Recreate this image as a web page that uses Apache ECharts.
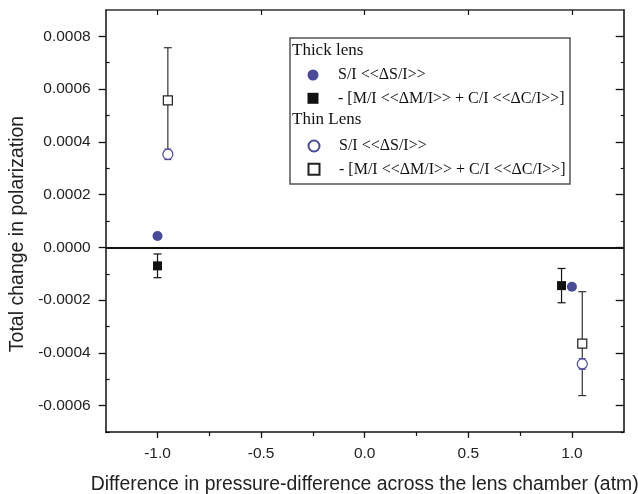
<!DOCTYPE html>
<html>
<head>
<meta charset="utf-8">
<script src="https://cdn.jsdelivr.net/npm/echarts@6/dist/echarts.min.js"></script>
<style>html,body{margin:0;padding:0;background:#fff;}#c{width:638px;height:494px;}</style>
</head>
<body>
<div id="c"></div>
<script>
// ---- data ----
var thickSI_x = [-1.0, 1.0];
var thickSI_y = [0.000043, -0.000149];
var thickSI_err = [0.000003, 0.000004];

var thickMC_x = [-1.0, 0.95];
var thickMC_y = [-0.00007, -0.000145];
var thickMC_err = [0.000045, 0.000065];

var thinSI_x = [-0.95, 1.05];
var thinSI_y = [0.000353, -0.000442];
var thinSI_err = [0.00002, 0.00002];

var thinMC_x = [-0.95, 1.05];
var thinMC_y = [0.000557, -0.000365];
var thinMC_err = [0.0002, 0.000197];

var xMajor = [-1.0, -0.5, 0.0, 0.5, 1.0];
var xMinor = [-0.75, -0.25, 0.25, 0.75];
var yMajor = [-0.0006, -0.0004, -0.0002, 0.0, 0.0002, 0.0004, 0.0006, 0.0008];
var yMinor = [-0.0007, -0.0005, -0.0003, -0.0001, 0.0001, 0.0003, 0.0005, 0.0007];

var labels = {
  thickSI: 'S/I <<\u0394S/I>>',
  thickMC: '- [M/I <<\u0394M/I>> + C/I <<\u0394C/I>>]',
  thinSI: 'S/I <<\u0394S/I>>',
  thinMC: '- [M/I <<\u0394M/I>> + C/I <<\u0394C/I>>]'
};

function zip3(a, b, c) { return a.map(function (v, i) { return [v, b[i], c[i]]; }); }
function zip2(a, b) { return a.map(function (v, i) { return [v, b[i]]; }); }

var BLUE = '#4a4a9a';
var AX = '#111';
var SANS = 'Liberation Sans';
var SERIF = 'Liberation Serif';

function errRender(color, capW) {
  return function (params, api) {
    var x = api.value(0), y = api.value(1), e = api.value(2);
    var t = api.coord([x, y + e]), b = api.coord([x, y - e]);
    var h = capW / 2;
    var st = { stroke: color, lineWidth: 1.2 };
    return { type: 'group', children: [
      { type: 'line', shape: { x1: t[0], y1: t[1], x2: b[0], y2: b[1] }, style: st },
      { type: 'line', shape: { x1: t[0] - h, y1: t[1], x2: t[0] + h, y2: t[1] }, style: st },
      { type: 'line', shape: { x1: b[0] - h, y1: b[1], x2: b[0] + h, y2: b[1] }, style: st }
    ]};
  };
}

var fmtX = function (v) { return v.toFixed(1); };
var fmtY = function (v) { return v.toFixed(4); };

function merge(base, extra) { for (var k in extra) base[k] = extra[k]; return base; }
function xAx(extra) {
  return merge({ type: 'value', min: -1.25, max: 1.25, interval: 0.25, gridIndex: 0,
    splitLine: { show: false }, axisLine: { show: false, onZero: false }, axisTick: { show: false }, axisLabel: { show: false } }, extra);
}
function yAx(extra) {
  return merge({ type: 'value', min: -0.0007, max: 0.0009, interval: 0.0001, gridIndex: 0,
    splitLine: { show: false }, axisLine: { show: false, onZero: false }, axisTick: { show: false }, axisLabel: { show: false } }, extra);
}

var legendText = { fontFamily: SERIF, fontSize: 16, color: '#111', lineHeight: 20, padding: [0, 0, 0, 14.5] };

var chart = echarts.init(document.getElementById('c'), null, { renderer: 'canvas' });
chart.setOption({
  animation: false,
  backgroundColor: '#fff',
  grid: { left: 105.7, right: 14.3, top: 10, bottom: 62, containLabel: false, outerBoundsMode: 'none' },
  xAxis: [
    xAx({ position: 'bottom',
      axisLine: { show: true, onZero: false, lineStyle: { color: AX, width: 1.5 } },
      axisTick: { show: true, customValues: xMajor, length: 6, lineStyle: { color: AX, width: 1.3 } },
      axisLabel: { show: true, customValues: xMajor, formatter: fmtX, fontFamily: SANS, fontSize: 15.5, color: '#222', margin: 14 },
      name: 'Difference in pressure-difference across the lens chamber (atm)',
      nameLocation: 'middle', nameGap: 43,
      nameTextStyle: { fontFamily: SANS, fontSize: 19.4, color: '#222' } }),
    xAx({ position: 'bottom',
      axisTick: { show: true, customValues: xMinor, length: 4, lineStyle: { color: AX, width: 1.2 } } }),
    xAx({ position: 'top',
      axisLine: { show: true, onZero: false, lineStyle: { color: '#333', width: 1.5 } },
      axisTick: { show: true, inside: true, customValues: xMajor, length: 5, lineStyle: { color: AX, width: 1.2 } } })
  ],
  yAxis: [
    yAx({ position: 'left',
      axisLine: { show: true, onZero: false, lineStyle: { color: AX, width: 1.5 } },
      axisTick: { show: true, customValues: yMajor, length: 7, lineStyle: { color: AX, width: 1.3 } },
      axisLabel: { show: true, customValues: yMajor, formatter: fmtY, fontFamily: SANS, fontSize: 15.5, color: '#222', margin: 15 },
      name: 'Total change in polarization',
      nameLocation: 'middle', nameGap: 71, nameRotate: 90,
      nameTextStyle: { fontFamily: SANS, fontSize: 19.5, color: '#222', padding: [0, 26, 0, 0] } }),
    yAx({ position: 'left',
      axisTick: { show: true, inside: true, customValues: yMinor, length: 4, lineStyle: { color: AX, width: 1.2 } } }),
    yAx({ position: 'right',
      axisLine: { show: true, onZero: false, lineStyle: { color: '#333', width: 1.8 } },
      axisTick: { show: true, inside: true, customValues: yMajor, length: 8, lineStyle: { color: AX, width: 1.3 } } }),
    yAx({ position: 'right',
      axisTick: { show: true, inside: true, customValues: yMinor, length: 3, lineStyle: { color: AX, width: 1.2 } } })
  ],
  legend: [
    { data: ['thickSI', 'thickMC'], orient: 'vertical', left: 302.5, top: 60,
      itemWidth: 11, itemHeight: 11, itemGap: 3.3,
      formatter: function (n) { return labels[n]; }, textStyle: legendText },
    { data: ['thinSI', 'thinMC'], orient: 'vertical', left: 302.5, top: 131,
      itemWidth: 11, itemHeight: 11, itemGap: 3.3,
      formatter: function (n) { return labels[n]; }, textStyle: legendText }
  ],
  graphic: [
    { type: 'rect', z: 1, shape: { x: 290, y: 38, width: 280, height: 146 },
      style: { fill: '#fff', stroke: '#555', lineWidth: 1.5 } },
    { type: 'text', z: 5, style: { text: 'Thick lens', x: 292, y: 51, verticalAlign: 'middle',
      fontFamily: SERIF, fontSize: 17, fill: '#111' } },
    { type: 'text', z: 5, style: { text: 'Thin Lens', x: 292, y: 120, verticalAlign: 'middle',
      fontFamily: SERIF, fontSize: 17, fill: '#111' } }
  ],
  series: [
    { name: 'errThickMC', type: 'custom', renderItem: errRender('#111', 8), data: zip3(thickMC_x, thickMC_y, thickMC_err), z: 2, silent: true },
    { name: 'errThinMC', type: 'custom', renderItem: errRender('#333', 8), data: zip3(thinMC_x, thinMC_y, thinMC_err), z: 2, silent: true },
    { name: 'errThinSI', type: 'custom', renderItem: errRender(BLUE, 7), data: zip3(thinSI_x, thinSI_y, thinSI_err), z: 2, silent: true },
    { name: 'errThickSI', type: 'custom', renderItem: errRender(BLUE, 6), data: zip3(thickSI_x, thickSI_y, thickSI_err), z: 2, silent: true },
    { name: 'thickSI', type: 'scatter', symbol: 'circle', symbolSize: 10, z: 4,
      itemStyle: { color: BLUE, opacity: 1 }, data: zip2(thickSI_x, thickSI_y),
      markLine: { silent: true, symbol: ['none', 'none'], label: { show: false },
        lineStyle: { color: '#111', width: 2.2, type: 'solid' }, data: [{ yAxis: 0 }] } },
    { name: 'thickMC', type: 'scatter', symbol: 'rect', symbolSize: 9, z: 4,
      itemStyle: { color: '#111', opacity: 1 }, data: zip2(thickMC_x, thickMC_y) },
    { name: 'thinSI', type: 'scatter', symbol: 'circle', symbolSize: 10, z: 4,
      itemStyle: { color: '#fff', borderColor: BLUE, borderWidth: 1.2, opacity: 1 }, data: zip2(thinSI_x, thinSI_y) },
    { name: 'thinMC', type: 'scatter', symbol: 'rect', symbolSize: 9, z: 4,
      itemStyle: { color: '#fff', borderColor: '#222', borderWidth: 1.2, opacity: 1 }, data: zip2(thinMC_x, thinMC_y) }
  ]
});
</script>
</body>
</html>
